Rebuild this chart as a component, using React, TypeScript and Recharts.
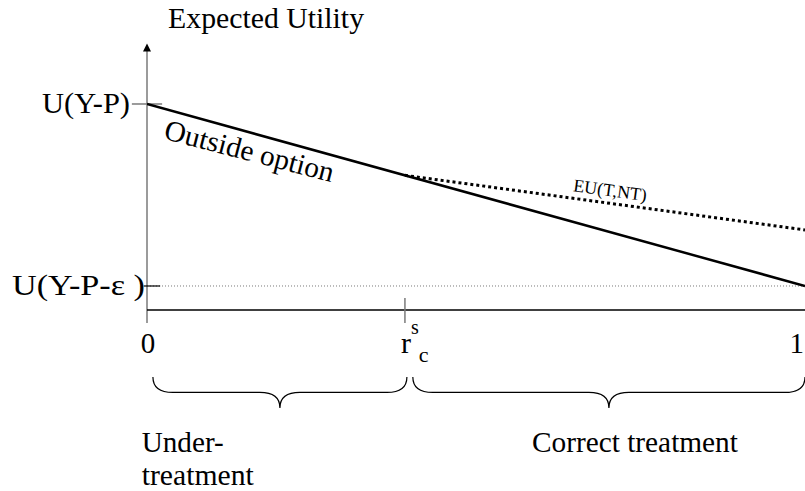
import { LineChart, Line, XAxis, YAxis, ReferenceLine, ReferenceDot, ReferenceArea } from "recharts"

// probability axis (0..1) and utility levels (U(Y-P-e) = 0, U(Y-P) = 1)
const R_S_C = 0.392
const xTicks = [
  { x: 0, label: "0" },
  { x: R_S_C, label: "r" },
  { x: 1, label: "1" },
]
const yTicks = [
  { y: 1, label: "U(Y-P)" },
  { y: 0, label: "U(Y-P-\u03b5 )" },
]
const outsideOption = [
  { x: 0, y: 1 },
  { x: 1, y: 0 },
]
const euTNT = [
  { x: R_S_C, y: 0.608 },
  { x: 1, y: 0.308 },
]
const regions = [
  { from: 0.009, to: 0.395 },
  { from: 0.404, to: 1 },
]

const Y_MIN = -1.1264
const Y_MAX = 1.5714
const X_AXIS_Y = -0.132
const AXIS_TOP = 1.31
const AXIS_BOTTOM = -0.203
const TICK_LABEL_Y = -0.368

const FONT = "'Times New Roman', 'Liberation Serif', serif"
const GRAY = "#7a7a7a"

type TextOpts = {
  dx?: number
  dy?: number
  anchor?: "start" | "middle" | "end"
  size?: number
  rotate?: number
  length?: number
}

function textShape(text: string, { dx = 0, dy = 0, anchor = "start", size = 29, rotate = 0, length }: TextOpts) {
  return (props: any) => {
    const x = props.cx + dx
    const y = props.cy + dy
    return (
      <text
        x={x}
        y={y}
        textAnchor={anchor}
        fontFamily={FONT}
        fontSize={size}
        fill="#000"
        textLength={length}
        lengthAdjust={length ? "spacingAndGlyphs" : undefined}
        transform={rotate ? `rotate(${rotate} ${x} ${y})` : undefined}
      >
        {text}
      </text>
    )
  }
}

function rscShape(props: any) {
  return (
    <text x={props.cx - 4} y={props.cy} fontFamily={FONT} fontSize={30} fill="#000">
      <tspan>r</tspan>
      <tspan fontSize={20} dy={-19}>s</tspan>
      <tspan fontSize={22} dy={28}>c</tspan>
    </text>
  )
}

function braceShape(props: any) {
  const { x, y, width: w, height: h } = props
  const flat = y + h * 0.5
  const tip = y + h
  const mid = x + w / 2
  const r = 20
  const d = `M ${x} ${y} Q ${x} ${flat} ${x + r} ${flat} L ${mid - r} ${flat} Q ${mid} ${flat} ${mid} ${tip} Q ${mid} ${flat} ${mid + r} ${flat} L ${x + w - r} ${flat} Q ${x + w} ${flat} ${x + w} ${y}`
  return <path d={d} fill="none" stroke="#000" strokeWidth={1.2} />
}

function arrowShape(props: any) {
  const { cx, cy } = props
  return <path d={`M ${cx} ${cy - 4} L ${cx + 4} ${cy + 4} L ${cx - 4} ${cy + 4} Z`} fill="#000" />
}

export default function App() {
  return (
    <div style={{ position: "absolute", left: 0, top: 0, background: "#fff" }}>
      <LineChart width={805} height={491} margin={{ top: 0, right: 0, bottom: 0, left: 147 }}>
        <XAxis type="number" dataKey="x" domain={[0, 1]} hide allowDataOverflow />
        <YAxis type="number" domain={[Y_MIN, Y_MAX]} hide allowDataOverflow />

        {/* axes */}
        <ReferenceLine
          segment={[{ x: 0, y: AXIS_BOTTOM }, { x: 0, y: AXIS_TOP }]}
          stroke={GRAY}
          strokeWidth={1.5}
          ifOverflow="visible"
        />
        <ReferenceDot x={0} y={AXIS_TOP} ifOverflow="visible" shape={arrowShape} />
        <ReferenceDot
          x={0.032}
          y={1.418}
          ifOverflow="visible"
          shape={textShape("Expected Utility", { length: 196 })}
        />
        <ReferenceLine y={X_AXIS_Y} stroke="#000" strokeWidth={1.5} ifOverflow="visible" />
        <ReferenceLine y={0} stroke={GRAY} strokeWidth={1} strokeDasharray="1 2" ifOverflow="visible" />

        {/* y ticks */}
        <ReferenceLine
          segment={[{ x: -0.023, y: 1 }, { x: 0.023, y: 1 }]}
          stroke={GRAY}
          strokeWidth={1.5}
          ifOverflow="visible"
        />
        <ReferenceLine
          segment={[{ x: -0.005, y: 0 }, { x: 0.02, y: 0 }]}
          stroke="#000"
          strokeWidth={1.2}
          ifOverflow="visible"
        />
        <ReferenceDot
          x={0}
          y={yTicks[0].y}
          ifOverflow="visible"
          shape={textShape(yTicks[0].label, { dx: -17, dy: 9, anchor: "end", length: 88 })}
        />
        <ReferenceDot
          x={0}
          y={yTicks[1].y}
          ifOverflow="visible"
          shape={textShape(yTicks[1].label, { dx: -135, dy: 9, length: 133 })}
        />

        {/* x ticks */}
        <ReferenceLine
          segment={[{ x: R_S_C, y: -0.066 }, { x: R_S_C, y: AXIS_BOTTOM }]}
          stroke={GRAY}
          strokeWidth={1.5}
          ifOverflow="visible"
        />
        <ReferenceDot
          x={xTicks[0].x}
          y={TICK_LABEL_Y}
          ifOverflow="visible"
          shape={textShape(xTicks[0].label, { dx: 1, anchor: "middle" })}
        />
        <ReferenceDot x={xTicks[1].x} y={TICK_LABEL_Y} ifOverflow="visible" shape={rscShape} />
        <ReferenceDot
          x={xTicks[2].x}
          y={TICK_LABEL_Y}
          ifOverflow="visible"
          shape={textShape(xTicks[2].label, { dx: -1, anchor: "end" })}
        />

        {/* curves */}
        <Line
          data={outsideOption}
          dataKey="y"
          stroke="#000"
          strokeWidth={2.5}
          dot={false}
          isAnimationActive={false}
        />
        <Line
          data={euTNT}
          dataKey="y"
          stroke="#000"
          strokeWidth={3}
          strokeDasharray="3 3"
          dot={false}
          isAnimationActive={false}
        />
        <ReferenceDot
          x={0.024}
          y={0.81}
          ifOverflow="visible"
          shape={textShape("Outside option", { rotate: 14.5, length: 174 })}
        />
        <ReferenceDot
          x={0.647}
          y={0.52}
          ifOverflow="visible"
          shape={textShape("EU(T,NT)", { size: 18, rotate: 7.7, length: 74 })}
        />

        {/* regions */}
        {regions.map((r) => (
          <ReferenceArea
            key={r.from}
            x1={r.from}
            x2={r.to}
            y1={-0.5}
            y2={-0.67}
            ifOverflow="visible"
            shape={braceShape}
          />
        ))}
        <ReferenceDot x={-0.008} y={-0.912} ifOverflow="visible" shape={textShape("Under-", { length: 82 })} />
        <ReferenceDot x={-0.008} y={-1.093} ifOverflow="visible" shape={textShape("treatment", { length: 112 })} />
        <ReferenceDot
          x={0.585}
          y={-0.912}
          ifOverflow="visible"
          shape={textShape("Correct treatment", { length: 206 })}
        />
      </LineChart>
    </div>
  )
}
